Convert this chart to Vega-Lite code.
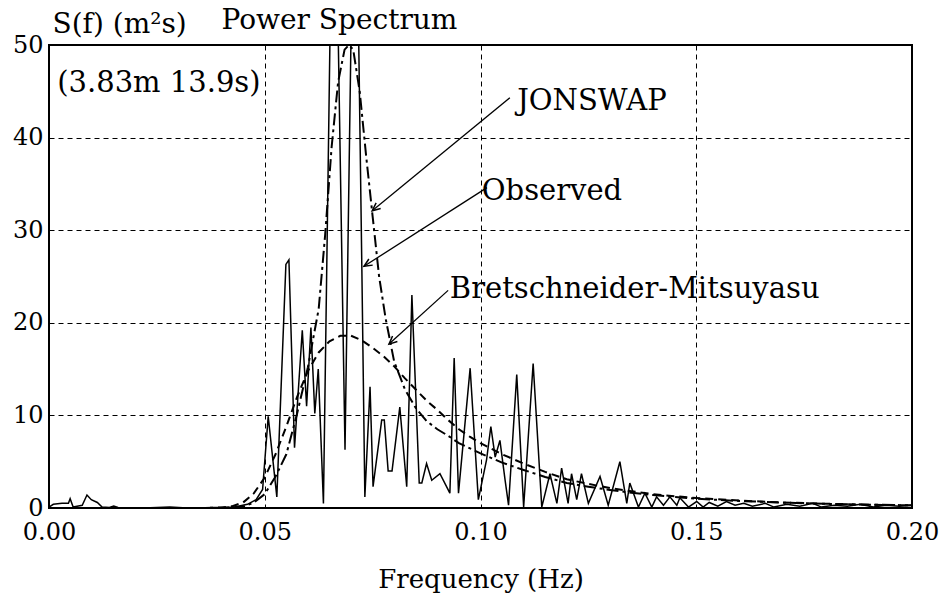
{
  "$schema": "https://vega.github.io/schema/vega-lite/v6.json",
  "width": 863,
  "height": 463,
  "autosize": {"type": "none"},
  "padding": {"left": 49, "top": 45, "right": 31, "bottom": 85},
  "background": "white",
  "config": {
    "font": "DejaVu Serif",
    "view": {"stroke": "black", "strokeWidth": 2},
    "axis": {
      "labelFont": "DejaVu Serif",
      "labelFontSize": 24,
      "labelColor": "black",
      "ticks": false,
      "domain": false,
      "grid": true,
      "gridColor": "black",
      "gridDash": [5, 4],
      "gridWidth": 1,
      "gridOpacity": 1,
      "labelPadding": 6,
      "titleFont": "DejaVu Serif",
      "titleFontWeight": "normal",
      "titleColor": "black",
      "titleFontSize": 26
    }
  },
  "title": {
    "text": "Power Spectrum",
    "anchor": "start",
    "dx": 209,
    "dy": 56,
    "offset": 9,
    "fontSize": 28,
    "fontWeight": "normal",
    "font": "DejaVu Serif",
    "color": "black",
    "baseline": "alphabetic"
  },
  "datasets": {
    "observed": [
      {"f": 0, "S": 0.1}, {"f": 0.001, "S": 0.4}, {"f": 0.003, "S": 0.5}, {"f": 0.0045, "S": 0.5}, {"f": 0.0049, "S": 1.0},
      {"f": 0.0056, "S": 0.1}, {"f": 0.0065, "S": 0.2}, {"f": 0.0077, "S": 0.3}, {"f": 0.0088, "S": 1.4}, {"f": 0.0098, "S": 0.9},
      {"f": 0.0112, "S": 0.6}, {"f": 0.0123, "S": 0.1}, {"f": 0.014, "S": 0.05}, {"f": 0.015, "S": 0.2}, {"f": 0.016, "S": 0.05},
      {"f": 0.022, "S": 0.0}, {"f": 0.028, "S": 0.1}, {"f": 0.032, "S": 0.0}, {"f": 0.04, "S": 0.05}, {"f": 0.043, "S": 0.1},
      {"f": 0.046, "S": 0.4}, {"f": 0.048, "S": 0.9}, {"f": 0.0495, "S": 2.0}, {"f": 0.0508, "S": 9.9}, {"f": 0.0528, "S": 1.2},
      {"f": 0.0549, "S": 26.3}, {"f": 0.0556, "S": 26.8}, {"f": 0.0569, "S": 6.5}, {"f": 0.0587, "S": 19.2}, {"f": 0.0597, "S": 11.0},
      {"f": 0.0607, "S": 19.5}, {"f": 0.0616, "S": 10.2}, {"f": 0.0624, "S": 15.0}, {"f": 0.0636, "S": 0.5}, {"f": 0.066, "S": 80},
      {"f": 0.0686, "S": 6.3}, {"f": 0.0709, "S": 80}, {"f": 0.0725, "S": 26}, {"f": 0.0732, "S": 1.2}, {"f": 0.0744, "S": 13.1},
      {"f": 0.0751, "S": 2.3}, {"f": 0.0771, "S": 9.5}, {"f": 0.0777, "S": 9.5}, {"f": 0.0786, "S": 4.0}, {"f": 0.0795, "S": 4.0},
      {"f": 0.0813, "S": 10.9}, {"f": 0.0829, "S": 2.3}, {"f": 0.0841, "S": 23}, {"f": 0.0858, "S": 2.7}, {"f": 0.0864, "S": 2.7},
      {"f": 0.0875, "S": 4.8}, {"f": 0.0887, "S": 3.0}, {"f": 0.0906, "S": 3.7}, {"f": 0.0929, "S": 1.6}, {"f": 0.0939, "S": 16.2},
      {"f": 0.0949, "S": 1.6}, {"f": 0.0976, "S": 15.1}, {"f": 0.0995, "S": 0.9}, {"f": 0.1014, "S": 5.2}, {"f": 0.1024, "S": 8.8},
      {"f": 0.1034, "S": 5.5}, {"f": 0.1045, "S": 7.3}, {"f": 0.1057, "S": 3.0}, {"f": 0.1065, "S": 0.3}, {"f": 0.1084, "S": 14.4},
      {"f": 0.11, "S": 0.1}, {"f": 0.1122, "S": 15.6}, {"f": 0.1142, "S": 0.1}, {"f": 0.1161, "S": 3.7}, {"f": 0.1177, "S": 0.5},
      {"f": 0.1188, "S": 4.3}, {"f": 0.1203, "S": 0.5}, {"f": 0.1211, "S": 3.7}, {"f": 0.1223, "S": 0.9}, {"f": 0.1234, "S": 3.7},
      {"f": 0.125, "S": 0.5}, {"f": 0.1277, "S": 3.4}, {"f": 0.1296, "S": 0.3}, {"f": 0.1323, "S": 5.0}, {"f": 0.1339, "S": 0.5},
      {"f": 0.1346, "S": 2.7}, {"f": 0.1366, "S": 0.1}, {"f": 0.1381, "S": 1.6}, {"f": 0.1397, "S": 0.1}, {"f": 0.1408, "S": 1.2},
      {"f": 0.1424, "S": 0.3}, {"f": 0.1439, "S": 1.2}, {"f": 0.1455, "S": 0.3}, {"f": 0.1462, "S": 1.1}, {"f": 0.1482, "S": 0.1},
      {"f": 0.1501, "S": 0.7}, {"f": 0.1516, "S": 0.1}, {"f": 0.153, "S": 0.6}, {"f": 0.155, "S": 0.2}, {"f": 0.157, "S": 0.7},
      {"f": 0.159, "S": 0.3}, {"f": 0.161, "S": 0.5}, {"f": 0.163, "S": 0.2}, {"f": 0.166, "S": 0.5}, {"f": 0.168, "S": 0.1},
      {"f": 0.171, "S": 0.4}, {"f": 0.174, "S": 0.2}, {"f": 0.177, "S": 0.5}, {"f": 0.179, "S": 0.1}, {"f": 0.182, "S": 0.3},
      {"f": 0.185, "S": 0.2}, {"f": 0.188, "S": 0.4}, {"f": 0.191, "S": 0.1}, {"f": 0.194, "S": 0.3}, {"f": 0.197, "S": 0.2},
      {"f": 0.2, "S": 0.3}
    ],
    "jonswap": [
      {"f": 0, "S": 0}, {"f": 0.03, "S": 0}, {"f": 0.04, "S": 0.02}, {"f": 0.0425, "S": 0.05}, {"f": 0.045, "S": 0.15},
      {"f": 0.0475, "S": 0.6}, {"f": 0.05, "S": 1.5}, {"f": 0.0525, "S": 3.4}, {"f": 0.055, "S": 5.8}, {"f": 0.0575, "S": 10.2},
      {"f": 0.06, "S": 15.2}, {"f": 0.0625, "S": 21.5}, {"f": 0.064, "S": 29.5}, {"f": 0.0655, "S": 39}, {"f": 0.067, "S": 46},
      {"f": 0.0685, "S": 49.5}, {"f": 0.0695, "S": 50}, {"f": 0.0705, "S": 49.5}, {"f": 0.072, "S": 45}, {"f": 0.0735, "S": 38},
      {"f": 0.075, "S": 31.5}, {"f": 0.0765, "S": 25}, {"f": 0.078, "S": 20.5}, {"f": 0.08, "S": 15.8}, {"f": 0.0825, "S": 12.8},
      {"f": 0.085, "S": 10.8}, {"f": 0.0875, "S": 9.4}, {"f": 0.09, "S": 8.5}, {"f": 0.0925, "S": 7.8}, {"f": 0.095, "S": 7.0},
      {"f": 0.1, "S": 5.9}, {"f": 0.105, "S": 4.9}, {"f": 0.11, "S": 4.1}, {"f": 0.115, "S": 3.35}, {"f": 0.12, "S": 2.7},
      {"f": 0.125, "S": 2.3}, {"f": 0.13, "S": 1.95}, {"f": 0.135, "S": 1.65}, {"f": 0.14, "S": 1.4}, {"f": 0.145, "S": 1.18},
      {"f": 0.15, "S": 1.0}, {"f": 0.16, "S": 0.76}, {"f": 0.17, "S": 0.58}, {"f": 0.18, "S": 0.45}, {"f": 0.19, "S": 0.36},
      {"f": 0.2, "S": 0.29}
    ],
    "bm": [
      {"f": 0, "S": 0}, {"f": 0.035, "S": 0}, {"f": 0.04, "S": 0.05}, {"f": 0.0425, "S": 0.2}, {"f": 0.045, "S": 0.6},
      {"f": 0.0475, "S": 1.6}, {"f": 0.05, "S": 3.3}, {"f": 0.0525, "S": 5.8}, {"f": 0.055, "S": 8.8}, {"f": 0.0575, "S": 12.0},
      {"f": 0.06, "S": 14.8}, {"f": 0.0625, "S": 16.8}, {"f": 0.065, "S": 18.0}, {"f": 0.0675, "S": 18.6}, {"f": 0.07, "S": 18.6},
      {"f": 0.0725, "S": 18.1}, {"f": 0.075, "S": 17.3}, {"f": 0.0775, "S": 16.4}, {"f": 0.08, "S": 15.3}, {"f": 0.0825, "S": 14.0},
      {"f": 0.085, "S": 12.8}, {"f": 0.0875, "S": 11.6}, {"f": 0.09, "S": 10.6}, {"f": 0.0925, "S": 9.5}, {"f": 0.095, "S": 8.5},
      {"f": 0.0975, "S": 7.7}, {"f": 0.1, "S": 7.0}, {"f": 0.105, "S": 5.8}, {"f": 0.11, "S": 4.8}, {"f": 0.115, "S": 3.9},
      {"f": 0.12, "S": 3.1}, {"f": 0.125, "S": 2.6}, {"f": 0.13, "S": 2.15}, {"f": 0.135, "S": 1.8}, {"f": 0.14, "S": 1.5},
      {"f": 0.145, "S": 1.27}, {"f": 0.15, "S": 1.08}, {"f": 0.16, "S": 0.8}, {"f": 0.17, "S": 0.6}, {"f": 0.18, "S": 0.46},
      {"f": 0.19, "S": 0.36}, {"f": 0.2, "S": 0.28}
    ],
    "labels": [
      {"f": 0.1085, "S": 43.0, "label": "JONSWAP"},
      {"f": 0.1003, "S": 33.3, "label": "Observed"},
      {"f": 0.0929, "S": 22.7, "label": "Bretschneider-Mitsuyasu"},
      {"f": 0.0019, "S": 44.9, "label": "(3.83m 13.9s)"}
    ],
    "arrows": [
      {"name": "JONSWAP", "f": 0.0749, "S": 32.1, "f0": 0.1068, "S0": 44.3},
      {"name": "Observed", "f": 0.073, "S": 26.1, "f0": 0.1015, "S0": 34.6},
      {"name": "BM", "f": 0.0788, "S": 17.7, "f0": 0.0925, "S0": 23.5}
    ]
  },
  "encoding": {
    "x": {
      "field": "f",
      "type": "quantitative",
      "scale": {"domain": [0, 0.2], "nice": false, "zero": false},
      "axis": {
        "title": "Frequency (Hz)",
        "values": [0, 0.05, 0.1, 0.15, 0.2],
        "format": ".2f",
        "labelFlush": false,
        "labelPadding": 12,
        "titleBaseline": "alphabetic",
        "titleY": 79
      }
    },
    "y": {
      "field": "S",
      "type": "quantitative",
      "scale": {"domain": [0, 50], "nice": false},
      "axis": {
        "title": "S(f) (m²s)",
        "values": [0, 10, 20, 30, 40, 50],
        "titleAngle": 0,
        "titleAlign": "left",
        "titleBaseline": "alphabetic",
        "titleFontSize": 28,
        "titleX": 3,
        "titleY": -13
      }
    }
  },
  "layer": [
    {
      "data": {"name": "bm"},
      "mark": {"type": "line", "color": "black", "strokeWidth": 2, "strokeDash": [8, 5], "clip": true}
    },
    {
      "data": {"name": "jonswap"},
      "mark": {"type": "line", "color": "black", "strokeWidth": 2, "strokeDash": [12, 4, 3, 4], "clip": true}
    },
    {
      "data": {"name": "observed"},
      "mark": {"type": "line", "color": "black", "strokeWidth": 1.5, "clip": true}
    },
    {
      "data": {"name": "arrows"},
      "mark": {"type": "rule", "color": "black", "strokeWidth": 1.3},
      "encoding": {
        "x2": {"field": "f0"},
        "y2": {"field": "S0"}
      }
    },
    {
      "data": {"name": "arrows"},
      "transform": [{"filter": "datum.name === 'JONSWAP'"}],
      "mark": {"type": "point", "shape": "M-0.45,1L0,0L0.45,1", "filled": false, "color": "black", "strokeWidth": 1.5, "size": 256, "opacity": 1, "angle": 231}
    },
    {
      "data": {"name": "arrows"},
      "transform": [{"filter": "datum.name === 'Observed'"}],
      "mark": {"type": "point", "shape": "M-0.45,1L0,0L0.45,1", "filled": false, "color": "black", "strokeWidth": 1.5, "size": 256, "opacity": 1, "angle": 238}
    },
    {
      "data": {"name": "arrows"},
      "transform": [{"filter": "datum.name === 'BM'"}],
      "mark": {"type": "point", "shape": "M-0.45,1L0,0L0.45,1", "filled": false, "color": "black", "strokeWidth": 1.5, "size": 256, "opacity": 1, "angle": 228}
    },
    {
      "data": {"name": "labels"},
      "mark": {"type": "text", "align": "left", "baseline": "alphabetic", "font": "DejaVu Serif", "fontSize": 29, "color": "black"},
      "encoding": {"text": {"field": "label"}}
    }
  ]
}
